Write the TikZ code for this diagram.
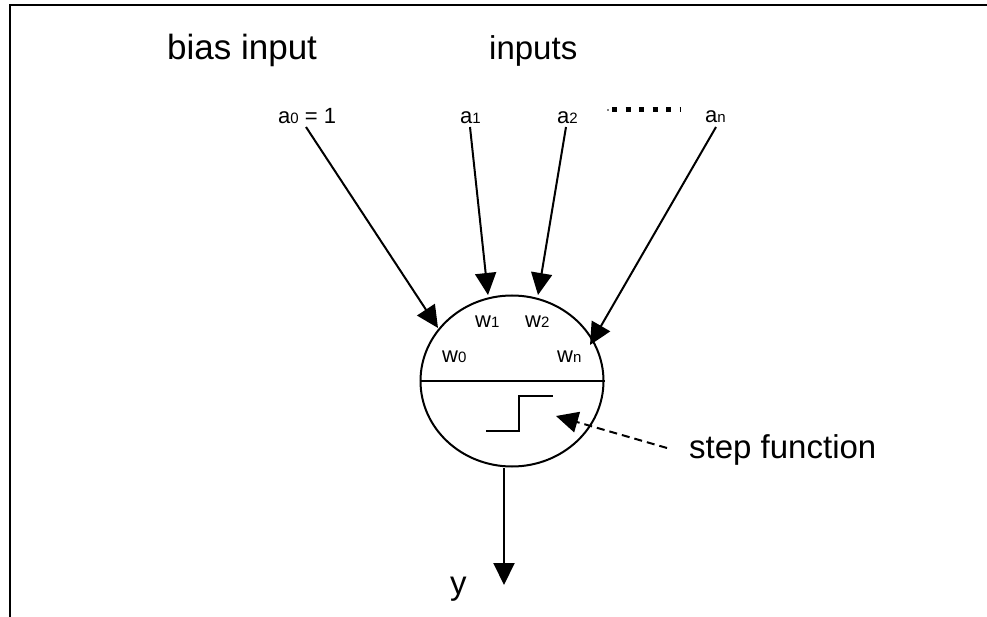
\documentclass[tikz,border=0pt]{standalone}
\usepackage{fontspec}
\setmainfont{Liberation Sans}
\usetikzlibrary{arrows.meta,shapes.geometric}
\newcommand{\sbs}[1]{{\fontsize{15}{15}\selectfont #1}}
\begin{document}
\begin{tikzpicture}[x=1pt,y=-1pt,
  big/.style={font=\fontsize{33}{36}\selectfont, inner sep=0pt, anchor=base west},
  small/.style={font=\fontsize{22}{24}\selectfont, inner sep=0pt, anchor=base west},
  conn/.style={line width=2pt, -{Triangle[length=22pt,width=21pt]}},
  frame/.style={line width=2.5pt},
  thin/.style={line width=2pt},
]
\useasboundingbox (0,0) rectangle (987,617);
% frame
\draw[frame] (10,617) -- (10,5) -- (987,5);
% titles
\node[big, font=\fontsize{35}{36}\selectfont] (bias) at (167,60) {bias input};
\node[big] (inp) at (489,60) {inputs};
% input labels
\node[small] (a0) at (278,124) {a\sbs{0} = 1};
\node[small] (a1) at (460,124) {a\sbs{1}};
\node[small] (a2) at (557,124) {a\sbs{2}};
\node[small] (an) at (705,123) {a\sbs{n}};
\draw[line width=5pt, dash pattern=on 5pt off 8.5pt] (612,110) -- (680,110);
\fill (608,110) circle (0.8pt);
% neuron
\node[draw, thin, ellipse, minimum width=183pt, minimum height=171pt, inner sep=0pt] (n) at (512,381) {};
\draw[thin] (n.west) -- (n.east);
% weights
\node[small] (w0) at (442,362) {w\sbs{0}};
\node[small] (w1) at (475,327) {w\sbs{1}};
\node[small] (w2) at (525,327) {w\sbs{2}};
\node[small] (wn) at (557,362) {w\sbs{n}};
% connectors
\coordinate (s0) at (306,127);
\coordinate (s1) at (470,127);
\coordinate (s2) at (566,127);
\coordinate (sn) at (716,127);
\coordinate (t0) at (438,328);
\coordinate (t1) at (488,295);
\coordinate (t2) at (538,295);
\coordinate (tn) at (590,345);
\draw[conn] (s0) -- (t0);
\draw[conn] (s1) -- (t1);
\draw[conn] (s2) -- (t2);
\draw[conn] (sn) -- (tn);
% step glyph
\draw[thin] (486,431) -- (519,431) -- (519,396) -- (553,396);
% step function label
\node[big] (sf) at (689,458) {step function};
\coordinate (sfs) at (667,448);
\coordinate (sft) at (556,416);
\draw[thin, dash pattern=on 8pt off 5pt, -{Triangle[length=22pt,width=21pt]}] (sfs) -- (sft);
% output
\coordinate (o) at (504,585);
\draw[conn] (n.south -| o) -- (o);
\node[big] (y) at (450,594) {y};
\end{tikzpicture}
\end{document}
